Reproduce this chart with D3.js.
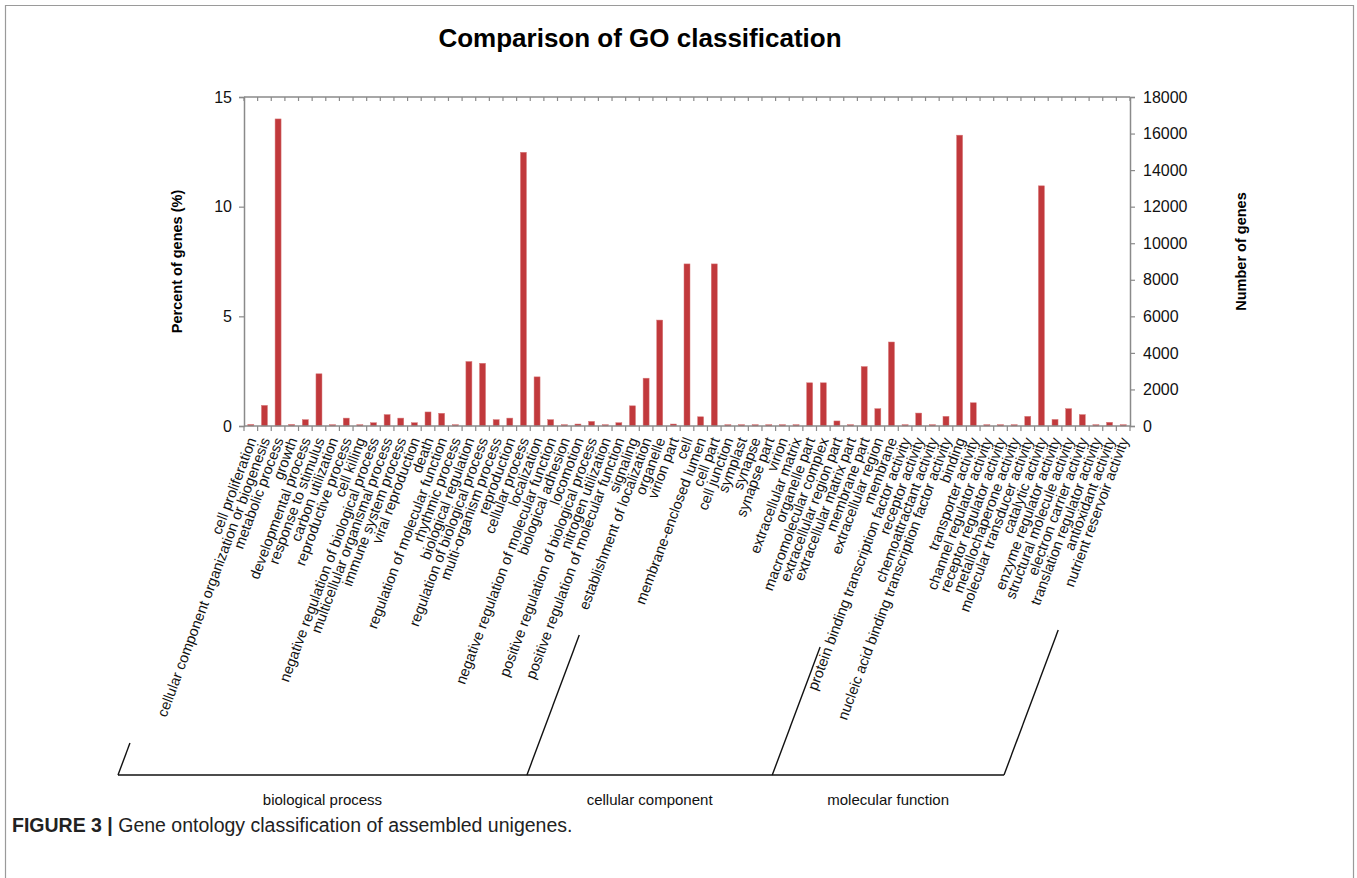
<!DOCTYPE html>
<html>
<head>
<meta charset="utf-8">
<script src="https://cdn.jsdelivr.net/npm/d3@7"></script>
<style>
  body { margin: 0; background: #fff; }
  text { font-family: "Liberation Sans", Arial, Helvetica, sans-serif; }
</style>
</head>
<body>
<div class="graph-center"></div>
<script>
// data
let categories = [
    "cell proliferation",
    "cellular component organization or biogenesis",
    "metabolic process",
    "growth",
    "developmental process",
    "response to stimulus",
    "carbon utilization",
    "reproductive process",
    "cell killing",
    "negative regulation of biological process",
    "multicellular organismal process",
    "immune system process",
    "viral reproduction",
    "death",
    "regulation of molecular function",
    "rhythmic process",
    "biological regulation",
    "regulation of biological process",
    "multi-organism process",
    "reproduction",
    "cellular process",
    "localization",
    "negative regulation of molecular function",
    "biological adhesion",
    "locomotion",
    "positive regulation of biological process",
    "nitrogen utilization",
    "positive regulation of molecular function",
    "signaling",
    "establishment of localization",
    "organelle",
    "virion part",
    "cell",
    "membrane-enclosed lumen",
    "cell part",
    "cell junction",
    "symplast",
    "synapse",
    "synapse part",
    "virion",
    "extracellular matrix",
    "organelle part",
    "macromolecular complex",
    "extracellular region part",
    "extracellular matrix part",
    "membrane part",
    "extracellular region",
    "membrane",
    "protein binding transcription factor activity",
    "receptor activity",
    "chemoattractant activity",
    "nucleic acid binding transcription factor activity",
    "binding",
    "transporter activity",
    "channel regulator activity",
    "receptor regulator activity",
    "metallochaperone activity",
    "molecular transducer activity",
    "catalytic activity",
    "enzyme regulator activity",
    "structural molecule activity",
    "electron carrier activity",
    "translation regulator activity",
    "antioxidant activity",
    "nutrient reservoir activity"
]

// percent of genes (%)
let percents = [
    0.07, 0.94, 14.0, 0.07, 0.29, 2.38, 0.06, 0.36, 0.06, 0.15,
    0.52, 0.36, 0.15, 0.64, 0.58, 0.06, 2.94, 2.86, 0.29, 0.36,
    12.48, 2.24, 0.29, 0.06, 0.09, 0.21, 0.06, 0.15, 0.92, 2.18,
    4.83, 0.09, 7.39, 0.42, 7.39, 0.06, 0.06, 0.06, 0.06, 0.06,
    0.06, 1.97, 1.97, 0.23, 0.06, 2.71, 0.79, 3.83,
    0.06, 0.59, 0.06, 0.44, 13.26, 1.06, 0.06, 0.06, 0.06, 0.44,
    10.95, 0.30, 0.79, 0.52, 0.06, 0.17, 0.06
]

let groups = ["biological process", "cellular component", "molecular function"]
let groupSizes = [30, 18, 17]

let leftTicks = [0, 5, 10, 15]
let rightTicks = [0, 2000, 4000, 6000, 8000, 10000, 12000, 14000, 16000, 18000]

// how far each bracket stroke reaches up (px)
let bracketRise = [32, 140, 128, 145]

//global variables
let svgWidth = 1357
let svgHeight = 878

let margin = {
    left: 244,
    right: 227,
    top: 97,
    bottom: 452
}

let height = svgHeight - margin.top - margin.bottom
let width = svgWidth - margin.left - margin.right

let axisColor = "#8a8a8a"
let labelAngle = -69.5

let root = d3.select('.graph-center')
    .append('svg')
    .attr('width', svgWidth)
    .attr('height', svgHeight)

// frame round the figure
root.append("path")
    .attr("d", "M5.5,880 V5.5 H1353.5 V880")
    .attr("fill", "none")
    .attr("stroke", "#9a9a9a")
    .attr("stroke-width", 1.2)

// title
root.append("text")
    .attr("x", 640)
    .attr("y", 47)
    .attr("text-anchor", "middle")
    .attr("font-size", 26)
    .attr("font-weight", "bold")
    .text("Comparison of GO classification")

let svg = root.append('g')
    .attr("transform", "translate(" + margin.left + "," + margin.top + ")");

// scales
let pad = 0.56
let xScale = d3.scaleBand()
    .domain(categories)
    .range([0, width])
    .paddingInner(pad)
    .paddingOuter(pad / 2)

let step = xScale.step()

let yScale = d3.scaleLinear()
    .domain([0, 15])
    .range([height, 0])

let yScaleRight = d3.scaleLinear()
    .domain([0, 18000])
    .range([height, 0])

// bars
svg.selectAll(".bar")
    .data(percents)
    .enter()
    .append("rect")
    .attr("class", "bar")
    .attr("x", (d, i) => xScale(categories[i]))
    .attr("width", xScale.bandwidth())
    .attr("y", d => yScale(d))
    .attr("height", d => height - yScale(d))
    .attr("fill", "#c1393c")
    .attr("stroke", "#d87a7b")
    .attr("stroke-width", 0.5)

// slot boundaries for top/bottom ticks
let bounds = d3.range(categories.length + 1).map(i => i * step)

svg.append("line")
    .attr("x1", 0).attr("x2", width)
    .attr("y1", 0).attr("y2", 0)
    .attr("stroke", axisColor).attr("stroke-width", 1.5)
svg.append("line")
    .attr("x1", 0).attr("x2", width)
    .attr("y1", height).attr("y2", height)
    .attr("stroke", axisColor).attr("stroke-width", 1.5)

svg.selectAll(".topTick")
    .data(bounds)
    .enter()
    .append("line")
    .attr("x1", d => d).attr("x2", d => d)
    .attr("y1", 0).attr("y2", 4)
    .attr("stroke", axisColor).attr("stroke-width", 1.2)

svg.selectAll(".botTick")
    .data(bounds)
    .enter()
    .append("line")
    .attr("x1", d => d).attr("x2", d => d)
    .attr("y1", height).attr("y2", height + 5)
    .attr("stroke", axisColor).attr("stroke-width", 1.2)

// left axis
let yAxis = d3.axisLeft(yScale)
    .tickValues(leftTicks)
    .tickSize(5)
    .tickPadding(7)
    .tickFormat(d3.format("d"))

let gy = svg.append("g")
    .attr("id", "y-axis")
    .call(yAxis)

// right axis
let yAxisRight = d3.axisRight(yScaleRight)
    .tickValues(rightTicks)
    .tickSize(5)
    .tickPadding(8)
    .tickFormat(d3.format("d"))

let gyr = svg.append("g")
    .attr("id", "y-axis-right")
    .attr("transform", `translate(${width},0)`)
    .call(yAxisRight)

;[gy, gyr].forEach(g => {
    g.select(".domain").attr("stroke", axisColor).attr("stroke-width", 1.5)
    g.selectAll(".tick line").attr("stroke", axisColor).attr("stroke-width", 1.2)
    g.selectAll(".tick text")
        .attr("font-size", 16)
        .attr("fill", "#111")
        .style("font-family", '"Liberation Sans", Arial, sans-serif')
})

// axis titles
svg.append("text")
    .attr("transform", `translate(-62,${height / 2}) rotate(-90)`)
    .attr("text-anchor", "middle")
    .attr("font-size", 14.5)
    .attr("font-weight", "bold")
    .text("Percent of genes (%)")

svg.append("text")
    .attr("transform", `translate(${width + 116},${height / 2 - 10}) rotate(-90)`)
    .attr("text-anchor", "middle")
    .attr("font-size", 14.5)
    .attr("font-weight", "bold")
    .text("Number of genes")

// rotated category labels
svg.selectAll(".catLabel")
    .data(categories)
    .enter()
    .append("text")
    .attr("class", "catLabel")
    .attr("transform", d => `translate(${xScale(d) + xScale.bandwidth() / 2 + 1},${height + 12}) rotate(${labelAngle})`)
    .attr("text-anchor", "end")
    .attr("dy", "0.35em")
    .attr("font-size", 14.6)
    .attr("fill", "#111")
    .text(d => d)

// group brackets: strokes along the label direction from each group boundary
let baseY = 775 - margin.top
let lean = Math.tan((90 + labelAngle) * Math.PI / 180)
let edgeIdx = [0]
groupSizes.forEach((n, i) => edgeIdx.push(edgeIdx[i] + n))
let edges = edgeIdx.map((k, i) => {
    let bx = k * step - (baseY - height - 12) * lean
    return { bx: bx, tx: bx + bracketRise[i] * lean, ty: baseY - bracketRise[i] }
})

svg.append("line")
    .attr("x1", edges[0].bx).attr("x2", edges[edges.length - 1].bx)
    .attr("y1", baseY).attr("y2", baseY)
    .attr("stroke", "#111").attr("stroke-width", 1.4)

svg.selectAll(".bracket")
    .data(edges)
    .enter()
    .append("line")
    .attr("x1", d => d.bx).attr("y1", baseY)
    .attr("x2", d => d.tx).attr("y2", d => d.ty)
    .attr("stroke", "#111").attr("stroke-width", 1.4)

svg.selectAll(".groupLabel")
    .data(groups)
    .enter()
    .append("text")
    .attr("x", (d, i) => (edges[i].bx + edges[i + 1].bx) / 2)
    .attr("y", baseY + 30)
    .attr("text-anchor", "middle")
    .attr("font-size", 15)
    .attr("fill", "#111")
    .text(d => d)

// caption
let cap = root.append("text")
    .attr("x", 12)
    .attr("y", 832)
    .attr("font-size", 19.5)
    .attr("fill", "#222")
cap.append("tspan").attr("font-weight", "bold").text("FIGURE 3 | ")
cap.append("tspan").text("Gene ontology classification of assembled unigenes.")
</script>
</body>
</html>
